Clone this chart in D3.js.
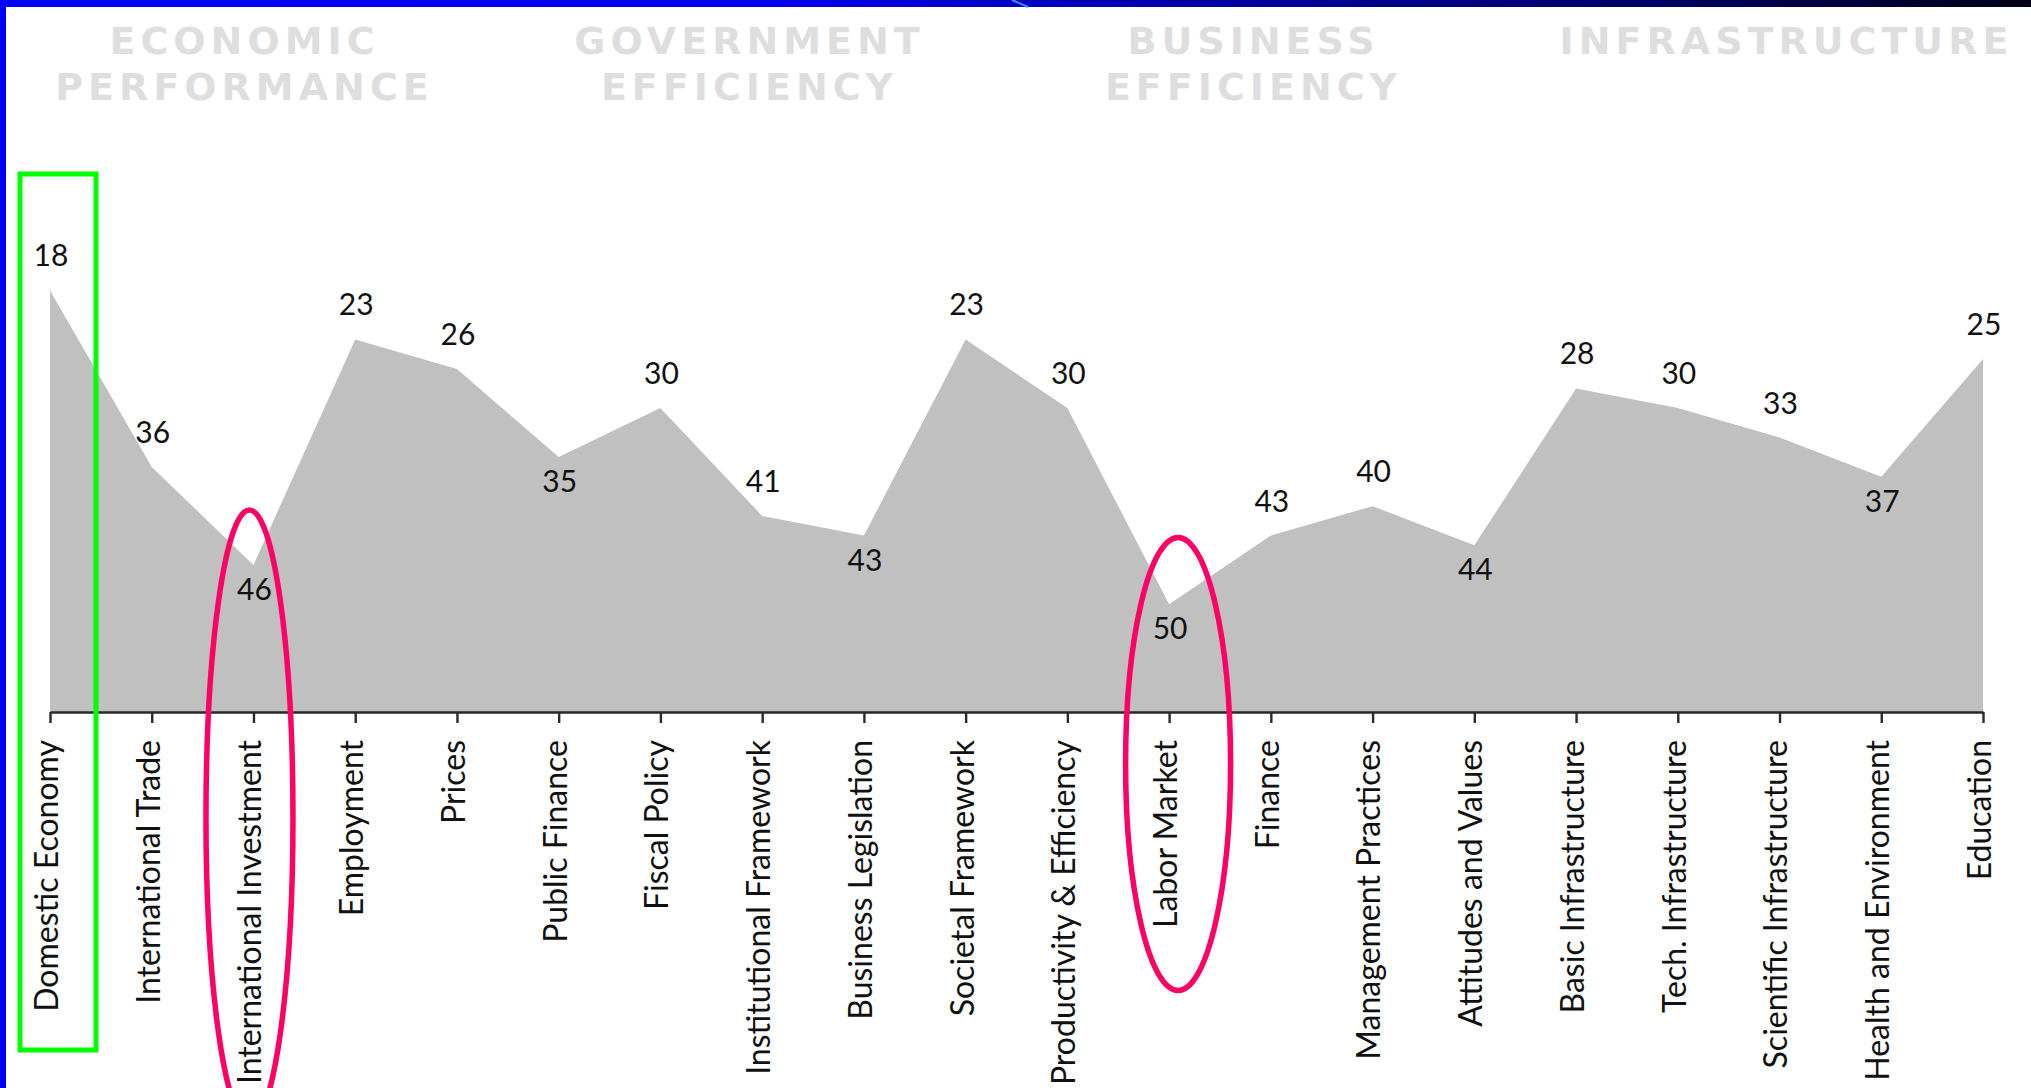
<!DOCTYPE html>
<html>
<head>
<meta charset="utf-8">
<script src="https://cdn.jsdelivr.net/npm/d3@7"></script>
<style>
  html, body { margin: 0; padding: 0; background: #fff; overflow: hidden; }
  svg { display: block; }
</style>
</head>
<body>
<svg id="chart" width="2031" height="1088"></svg>
<script>
// ---------- data ----------
const categories = [
  "Domestic Economy", "International Trade", "International Investment", "Employment", "Prices",
  "Public Finance", "Fiscal Policy", "Institutional Framework", "Business Legislation", "Societal Framework",
  "Productivity & Efficiency", "Labor Market", "Finance", "Management Practices", "Attitudes and Values",
  "Basic Infrastructure", "Tech. Infrastructure", "Scientific Infrastructure", "Health and Environment", "Education"
];
const ranks = [18, 36, 46, 23, 26, 35, 30, 41, 43, 23, 30, 50, 43, 40, 44, 28, 30, 33, 37, 25];
const factorLines = [
  ["ECONOMIC", "PERFORMANCE"],
  ["GOVERNMENT", "EFFICIENCY"],
  ["BUSINESS", "EFFICIENCY"],
  ["INFRASTRUCTURE"]
];
const rankDomain = [0, 61];
const greenBoxCategory = "Domestic Economy";
const circledCategories = ["International Investment", "Labor Market"];

// ---------- layout ----------
const W = 2031, H = 1088;
const svg = d3.select("#chart");

const x = d3.scalePoint().domain(categories).range([50, 1983]).padding(0);
const y = d3.scaleLinear().domain(rankDomain).range([114, 712]);
const baseY = y(rankDomain[1]);

// frame: gradient top band + blue left bar
const defs = svg.append("defs");
const grad = defs.append("linearGradient").attr("id", "topband").attr("x1", "0").attr("x2", "1");
[[0, "#0000ff"], [0.38, "#0000f2"], [0.5, "#0000c4"], [0.58, "#0000a8"], [0.8, "#00006a"], [1, "#000018"]]
  .forEach(([o, c]) => grad.append("stop").attr("offset", o).attr("stop-color", c));

svg.append("rect").attr("x", 0).attr("y", 0).attr("width", W).attr("height", 7).attr("fill", "url(#topband)");
svg.append("rect").attr("x", 0).attr("y", 0).attr("width", 6).attr("height", H).attr("fill", "#0000ff");
svg.append("line").attr("x1", 1012).attr("y1", 0).attr("x2", 1028).attr("y2", 7)
  .attr("stroke", "#3f8cff").attr("stroke-width", 2);

// factor headers
const headerCenters = [242, 747, 1251, 1784];
const headers = svg.append("g").attr("font-family", "'DejaVu Sans', Inter, sans-serif")
  .attr("font-weight", 700).attr("font-size", 38).attr("fill", "#dedede")
  .attr("text-anchor", "middle").attr("letter-spacing", 5);
factorLines.forEach((lines, i) => {
  lines.forEach((t, j) => {
    headers.append("text").attr("x", headerCenters[i] + 2.5).attr("y", 54 + j * 46).text(t);
  });
});

// area
const area = d3.area()
  .x((d, i) => x(categories[i]))
  .y0(baseY)
  .y1(d => y(d))
  .curve(d3.curveLinear);
svg.append("path").datum(ranks).attr("d", area).attr("fill", "#c0c0c0");

// axis
const axis = d3.axisBottom(x).tickSize(11).tickSizeOuter(0).tickPadding(0);
const gx = svg.append("g").attr("transform", `translate(0,${baseY})`).call(axis);
gx.select(".domain").attr("stroke", "#2a2a2a").attr("stroke-width", 2.4);
gx.selectAll(".tick line").attr("stroke", "#2a2a2a").attr("stroke-width", 2.4);
gx.selectAll(".tick text")
  .attr("font-family", "Lato, 'Open Sans', sans-serif")
  .attr("font-size", 32).attr("fill", "#111")
  .attr("text-anchor", "end")
  .attr("transform", "translate(0,28) rotate(-90)")
  .attr("x", 0).attr("y", 0).attr("dy", "0.23em");

// value labels
const lbl = svg.append("g").attr("font-family", "Lato, 'Open Sans', sans-serif")
  .attr("font-size", 30).attr("fill", "#111").attr("text-anchor", "middle");
ranks.forEach((v, i) => {
  const prev = i > 0 ? ranks[i - 1] : -Infinity;
  const next = i < ranks.length - 1 ? ranks[i + 1] : -Infinity;
  const below = v > prev && v > next;
  lbl.append("text")
    .attr("x", x(categories[i]) + 1)
    .attr("y", below ? y(v) + 35 : y(v) - 24)
    .text(v);
});

// highlight: green box around first category
const gxPos = x(greenBoxCategory);
svg.append("rect")
  .attr("x", gxPos - 30).attr("y", 174)
  .attr("width", 76).attr("height", 876)
  .attr("fill", "none").attr("stroke", "#00ff00").attr("stroke-width", 5);

// highlight: red ellipses
const ellipseSpecs = [
  { dx: -4, rx: 43.5, cy: 817, ry: 307 },
  { dx: 9, rx: 52.5, cy: 764, ry: 226.5 }
];
circledCategories.forEach((c, i) => {
  const s = ellipseSpecs[i];
  svg.append("ellipse")
    .attr("cx", x(c) + s.dx).attr("cy", s.cy)
    .attr("rx", s.rx).attr("ry", s.ry)
    .attr("fill", "none").attr("stroke", "#ff0066").attr("stroke-width", 5.5);
});
</script>
</body>
</html>
